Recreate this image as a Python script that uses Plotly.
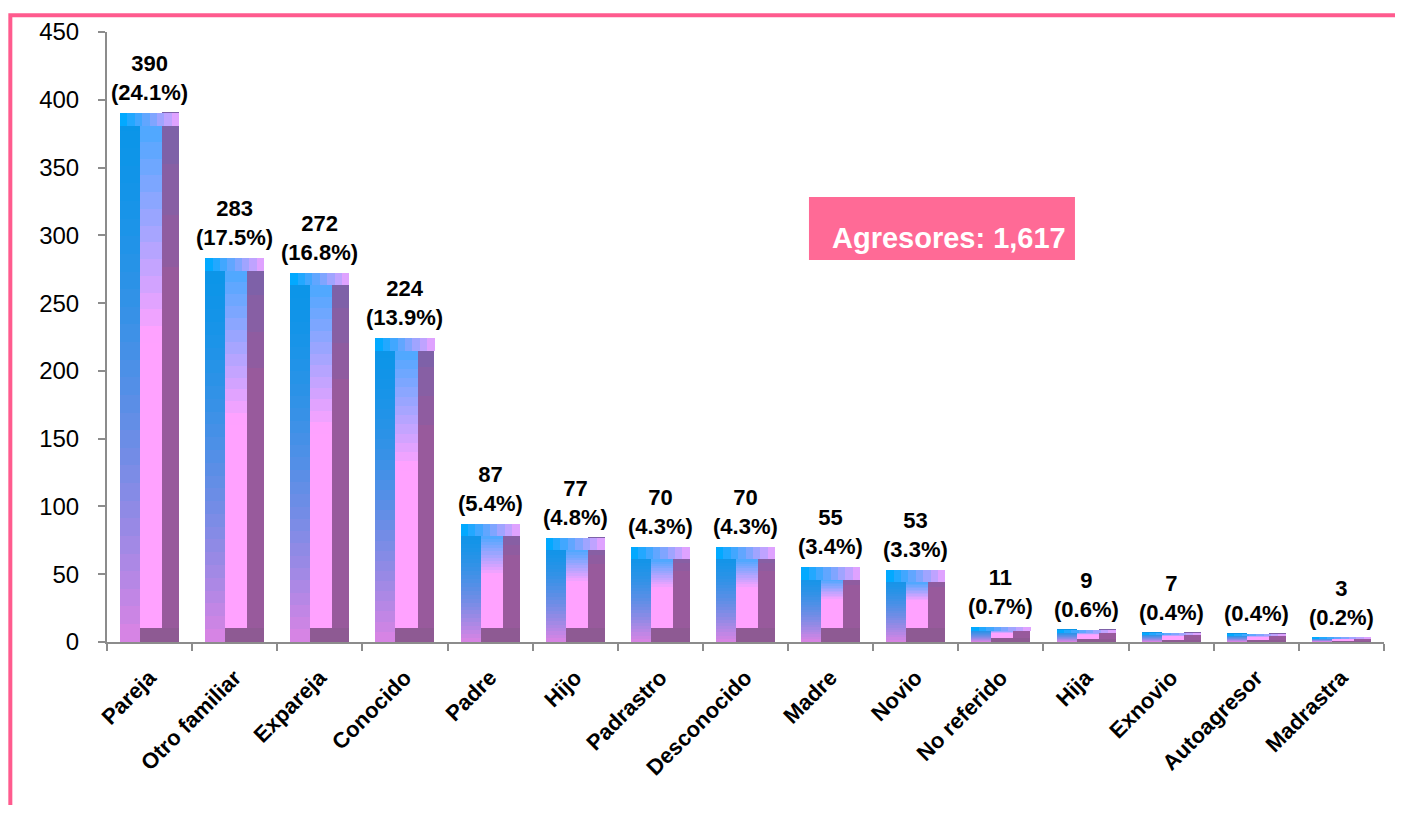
import plotly.graph_objects as go

categories = ["Pareja", "Otro familiar", "Expareja", "Conocido", "Padre", "Hijo",
              "Padrastro", "Desconocido", "Madre", "Novio", "No referido", "Hija",
              "Exnovio", "Autoagresor", "Madrastra"]
values = [390, 283, 272, 224, 87, 77, 70, 70, 55, 53, 11, 9, 7, 6, 3]
count_labels = ["390", "283", "272", "224", "87", "77", "70", "70", "55", "53",
                "11", "9", "7", "", "3"]
percent_labels = ["(24.1%)", "(17.5%)", "(16.8%)", "(13.9%)", "(5.4%)", "(4.8%)",
                  "(4.3%)", "(4.3%)", "(3.4%)", "(3.3%)", "(0.7%)", "(0.6%)",
                  "(0.4%)", "(0.4%)", "(0.2%)"]
total_label = "Agresores: 1,617"
y_ticks = [0, 50, 100, 150, 200, 250, 300, 350, 400, 450]

FONT = "Arial, Liberation Sans, sans-serif"


def hx(c):
    c = c.lstrip("#")
    return [int(c[i:i + 2], 16) for i in (0, 2, 4)]


def mix(c1, c2, t):
    t = max(0.0, min(1.0, t))
    a, b = hx(c1), hx(c2)
    return "#" + "".join(f"{round(a[i] + (b[i] - a[i]) * t):02x}" for i in range(3))


fig = go.Figure()

# bar geometry (fraction of category width)
W = 0.693
L = -W / 2
LW = 0.235
CW = 0.259
RW = W - LW - CW

bb = [min(10.5, 0.3 * v) for v in values]
tb = [min(9.0, 0.25 * v) for v in values]

common = dict(x=categories, hoverinfo="skip", showlegend=False,
              marker_line_width=0)

# base (dark purple: bottom bevel)
fig.add_trace(go.Bar(y=values, base=[0] * len(values), offset=L, width=W,
                     marker_color="#8e5a93", **common))


def face(n, off, wid, top_off, bot_off, c_top, c_bot, reach, power=1.0):
    span = [v - t - b for v, t, b in zip(values, top_off, bot_off)]
    for k in range(n):
        f = (k + 0.5) / n
        col = mix(c_top, c_bot, (f / reach) ** power)
        h = [s / n * 1.02 for s in span]
        base = [v - t - (k + 1) * s / n for v, t, s in zip(values, top_off, span)]
        fig.add_trace(go.Bar(y=h, base=base, offset=off, width=wid,
                             marker_color=col, **common))


zeros = [0] * len(values)
# right face: dark purple, slightly bluish at top
face(10, L + LW + CW, RW, zeros, bb, "#7a62aa", "#985a9c", 0.35)
# left face: blue -> pink
face(30, L, LW, zeros, zeros, "#0a95e8", "#dc84e4", 1.0, 1.6)
# center face: light blue -> light pink
face(30, L + LW, CW, tb, bb, "#4aa8ff", "#ffa2ff", 0.42)

# top bevel: horizontal gradient blue -> lilac
M = 8
for j in range(M):
    col = mix("#02a9ff", "#dfa2ff", j / (M - 1))
    base = [v - t for v, t in zip(values, tb)]
    fig.add_trace(go.Bar(y=tb, base=base, offset=L + j * W / M, width=W / M * 1.02,
                         marker_color=col, **common))

# data labels
for c, v, n, p in zip(categories, values, count_labels, percent_labels):
    fig.add_annotation(x=c, y=v, text=f"<b>{n}</b><br><b>{p}</b>",
                       showarrow=False, yanchor="bottom", yshift=6,
                       font=dict(family=FONT, size=22, color="#000000"),
                       align="center")

# total box
fig.add_shape(type="rect", xref="paper", yref="paper",
              x0=0.5497, x1=0.758, y0=0.6262, y1=0.7295,
              fillcolor="#ff6a96", line_width=0, layer="above")
fig.add_annotation(xref="paper", yref="paper", x=0.659, y=0.6623,
                   text=f"<b>{total_label}</b>", showarrow=False,
                   xanchor="center", yanchor="middle",
                   font=dict(family=FONT, size=29, color="#ffffff"))

# pink frame lines
fig.add_shape(type="path", xref="paper", yref="paper",
              path="M -0.0757,-0.30 L -0.0757,1.0274 L 1.03,1.0274",
              line=dict(color="#ff5b8e", width=4), layer="above")

# page body has an 8px margin: figure is offset accordingly
fig.update_layout(
    width=1387, height=797,
    margin=dict(l=99, r=11, t=24, b=163),
    paper_bgcolor="#ffffff", plot_bgcolor="#ffffff",
    barmode="overlay", bargap=0,
    font=dict(family=FONT, color="#000000"),
    showlegend=False,
)
fig.update_xaxes(
    type="category", range=[-0.5, len(categories) - 0.5],
    showline=True, linecolor="#8c8c8c", linewidth=2,
    ticks="outside", tickson="boundaries", ticklen=7, tickwidth=2,
    tickcolor="#8c8c8c", tickangle=-45,
    tickfont=dict(family=FONT, size=22, color="#000000"),
    ticktext=[f"<b>{c}</b>" for c in categories], tickvals=categories,
    ticklabelstandoff=12, showgrid=False,
)
fig.update_yaxes(
    range=[0, 450], tickvals=y_ticks, showline=True, linecolor="#8c8c8c",
    linewidth=2, ticks="outside", ticklen=7, tickwidth=2, tickcolor="#8c8c8c",
    tickfont=dict(family=FONT, size=24, color="#000000"),
    ticklabelstandoff=14, showgrid=False, zeroline=False,
)

fig.write_html("out.html")
